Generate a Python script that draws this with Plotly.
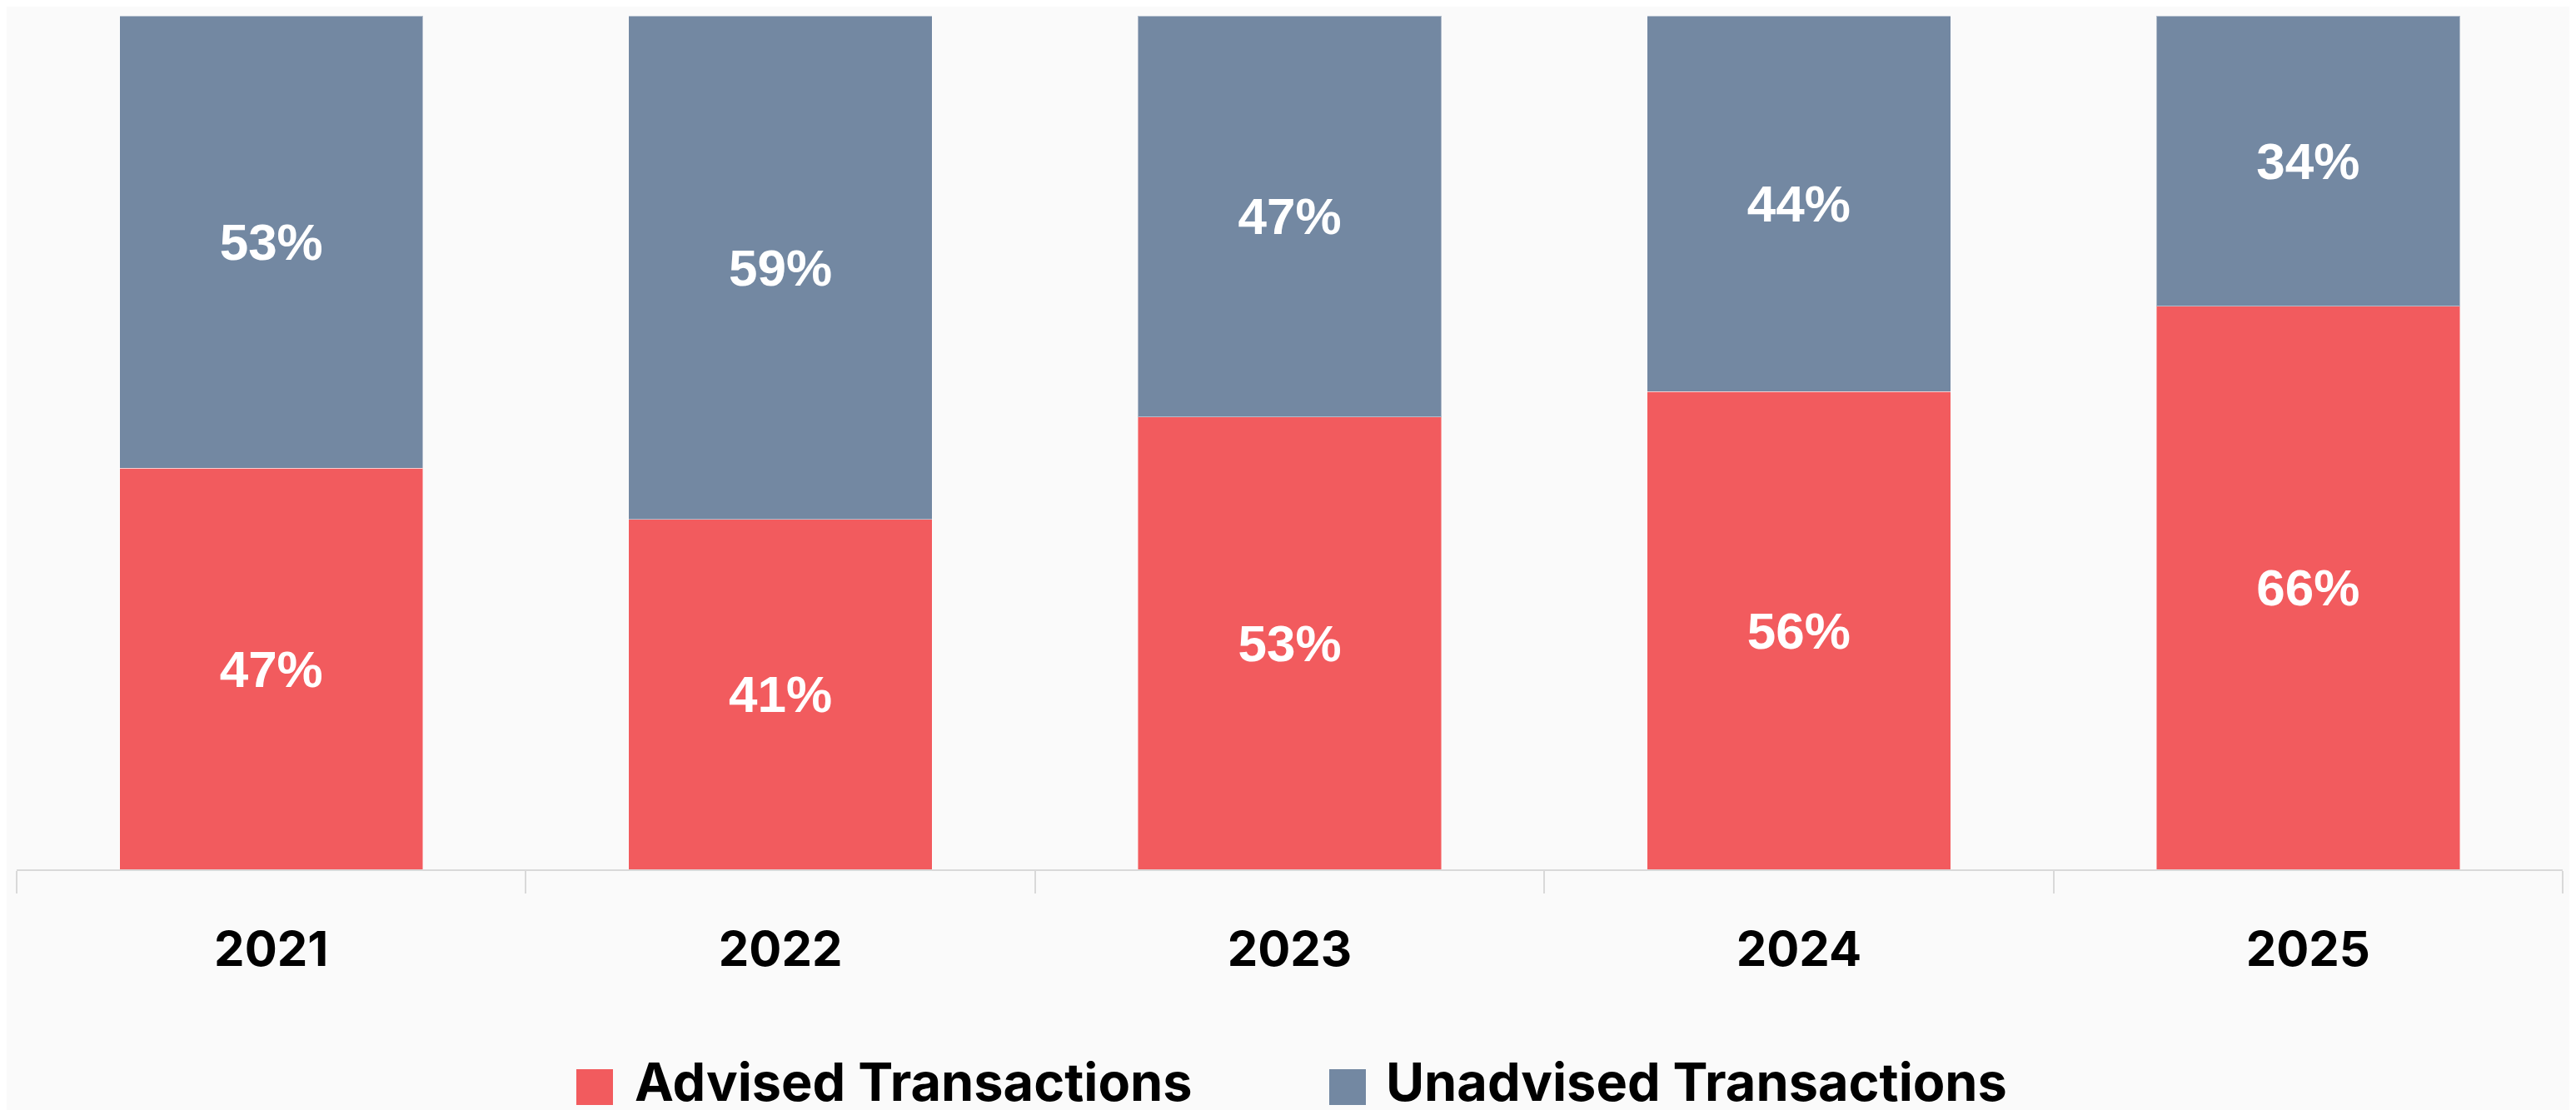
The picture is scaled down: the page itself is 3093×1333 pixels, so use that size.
import plotly.graph_objects as go

years = ["2021", "2022", "2023", "2024", "2025"]
advised = [47, 41, 53, 56, 66]
unadvised = [53, 59, 47, 44, 34]
series_names = ["Advised Transactions", "Unadvised Transactions"]
series_colors = ["#F25B5E", "#7388A2"]

W, H = 3093, 1333
ml, mr, mt, mb = 12, 24, 11, 297

fig = go.Figure()
for name, vals, col in zip(series_names, [advised, unadvised], series_colors):
    fig.add_trace(go.Bar(
        x=years, y=vals, name=name,
        marker=dict(color=col, line=dict(color="rgba(255,255,255,0.45)", width=1)),
        text=[f"{v}%" for v in vals],
        textposition="inside", insidetextanchor="middle",
        textfont=dict(family="Liberation Sans", size=62, color="white", weight="bold"),
        showlegend=False, hoverinfo="skip",
    ))

# legend drawn by hand so the swatches can be as large as the reference
plot_w = W - ml - mr
plot_h = H - mt - mb
def px(x):
    return (x - ml) / plot_w
def py(y):
    return (H - mb - y) / plot_h

legend_items = [(684, 752), (1588, 1654)]
for (sx, tx), name, col in zip(legend_items, series_names, series_colors):
    fig.add_shape(type="rect", xref="paper", yref="paper",
                  x0=px(sx), x1=px(sx + 44), y0=py(1319), y1=py(1276),
                  fillcolor=col, line=dict(width=0))
    fig.add_annotation(xref="paper", yref="paper", x=px(tx), y=py(1331),
                       text=name, showarrow=False, xanchor="left", yanchor="bottom",
                       font=dict(family="Inter", size=63, color="black", weight="bold"))

fig.update_layout(
    width=W, height=H,
    barmode="stack", bargap=0.404,
    margin=dict(l=ml, r=mr, t=mt, b=mb),
    paper_bgcolor="#FAFAFA", plot_bgcolor="#FAFAFA",
    uniformtext=dict(mode="show", minsize=10),
)
fig.update_xaxes(
    showline=True, linecolor="#D9D9D9", linewidth=2,
    ticks="outside", tickson="boundaries", ticklen=27, tickcolor="#D9D9D9", tickwidth=2,
    ticklabelstandoff=44,
    tickfont=dict(family="Inter", size=58, color="black", weight="bold"),
    showgrid=False,
)
fig.update_yaxes(visible=False, range=[0, 100], showgrid=False)

fig.write_html("out.html")
